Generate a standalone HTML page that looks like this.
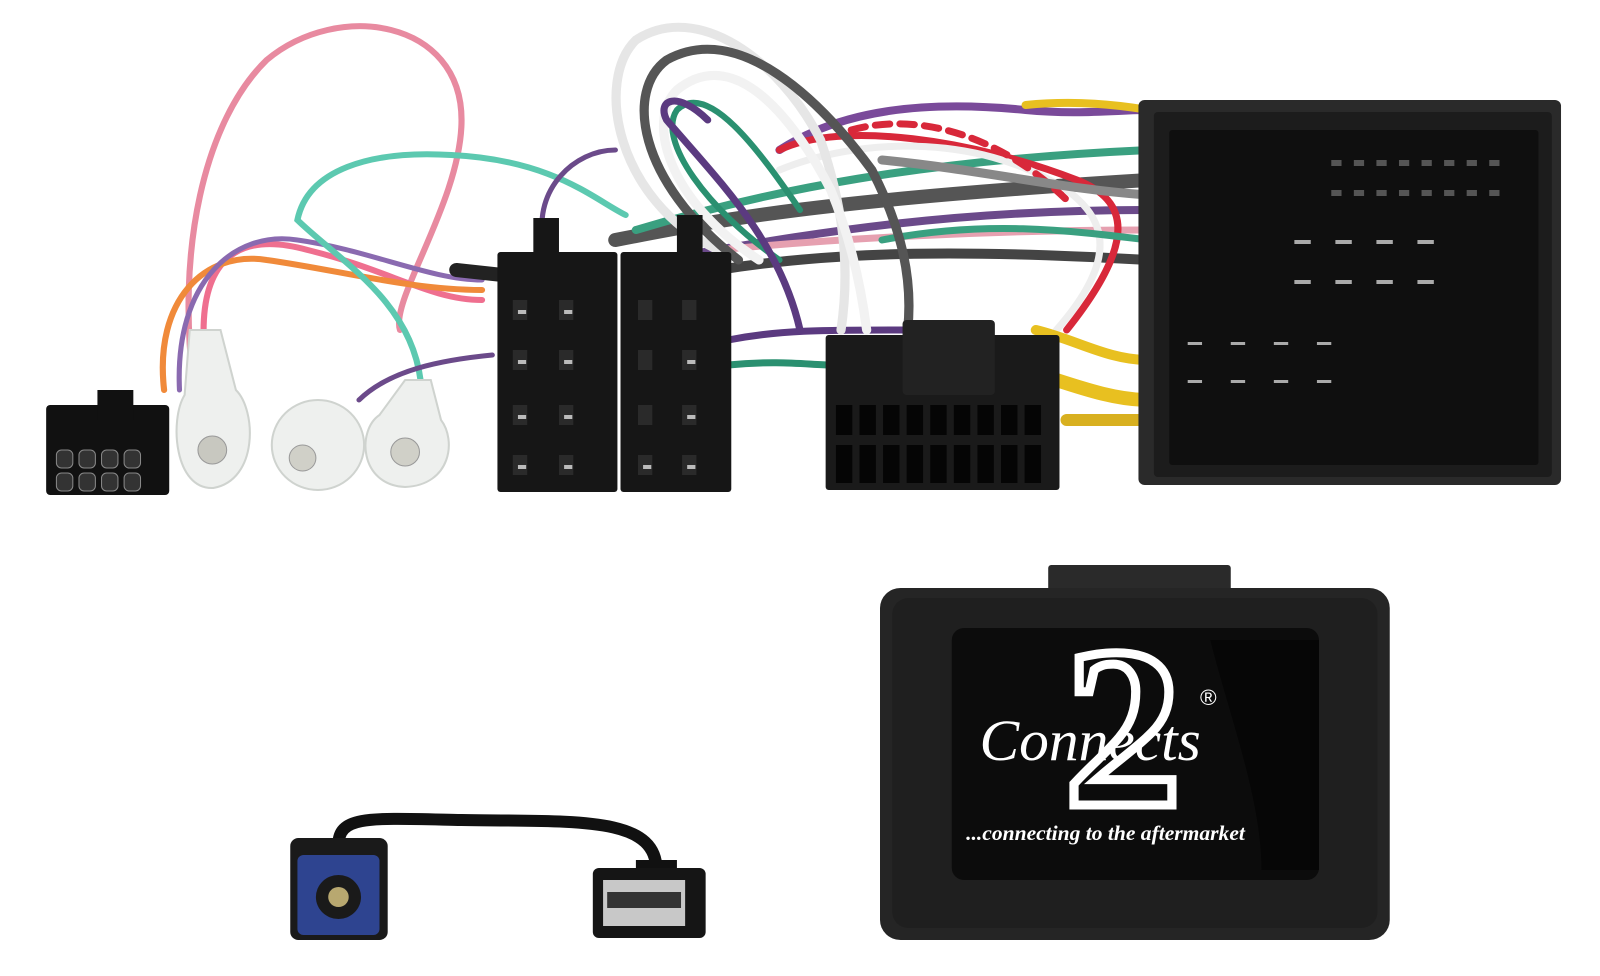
<!DOCTYPE html>
<html><head><meta charset="utf-8"><style>
html,body{margin:0;padding:0;background:#fff;width:1600px;height:976px;overflow:hidden}
svg{display:block}
</style></head><body>
<svg width="1600" height="976" viewBox="0 0 1560 976" preserveAspectRatio="none" xmlns="http://www.w3.org/2000/svg">
<g fill="none" stroke-linecap="round">
 <path d="M190 395 C170 250 200 120 260 60 C330 0 450 20 450 120 C450 200 380 300 390 330" stroke="#e88aa0" stroke-width="6"/>
 <path d="M200 360 C190 260 230 230 300 250 C380 270 420 300 470 300" stroke="#ef6f8f" stroke-width="6"/>
 <path d="M160 390 C150 300 200 250 260 260 C330 270 400 290 470 290" stroke="#f08a3a" stroke-width="6"/>
 <path d="M175 390 C170 280 230 230 290 240 C360 250 420 280 470 280" stroke="#8a6ab0" stroke-width="5"/>
 <path d="M410 380 C400 300 330 260 290 220 C300 170 360 150 440 155 C540 160 580 200 610 215" stroke="#5cc9b0" stroke-width="6"/>
 <path d="M350 400 C380 370 430 360 480 355" stroke="#6b4a8a" stroke-width="5"/>
 <path d="M445 270 L490 275" stroke="#222" stroke-width="14"/>
 <path d="M530 240 C520 190 560 150 600 150" stroke="#6b4a8a" stroke-width="5"/>
 <path d="M710 340 C760 330 800 330 880 330" stroke="#5b3a80" stroke-width="7"/>
 <path d="M710 365 C760 360 790 365 810 365" stroke="#2a9070" stroke-width="7"/>
 <path d="M600 240 C700 220 800 200 1120 180" stroke="#555" stroke-width="14"/>
 <path d="M620 230 C750 190 900 160 1120 150" stroke="#3aa080" stroke-width="8"/>
 <path d="M640 260 C760 240 900 210 1120 210" stroke="#6b4a8a" stroke-width="8"/>
 <path d="M700 250 C800 240 950 230 1120 230" stroke="#e6a0b0" stroke-width="7"/>
 <path d="M700 270 C820 250 950 250 1120 260" stroke="#444" stroke-width="10"/>
 <path d="M760 150 C820 110 900 100 1000 110 C1050 115 1090 110 1120 110" stroke="#7a4a9a" stroke-width="8"/>
 <path d="M1000 105 C1050 100 1090 105 1120 110" stroke="#e8c020" stroke-width="8"/>
 <path d="M760 150 C820 120 950 140 1050 180 C1100 200 1110 240 1040 330" stroke="#d8283a" stroke-width="7"/>
 <path d="M760 170 C830 140 950 130 1040 190 C1080 220 1090 260 1030 330" stroke="#eee" stroke-width="7"/>
 <path d="M830 130 C900 110 980 140 1040 200" stroke="#d8283a" stroke-width="7" stroke-dasharray="14 10"/>
 <path d="M860 160 C960 170 1040 190 1120 195" stroke="#888" stroke-width="9"/>
 <path d="M860 240 C960 220 1040 230 1120 240" stroke="#3aa080" stroke-width="7"/>
 <path d="M700 250 C600 200 580 80 620 40 C680 0 760 60 800 140 C820 200 830 260 820 330" stroke="#e6e6e6" stroke-width="9"/>
 <path d="M720 260 C620 180 610 90 650 60 C720 20 800 100 850 170 C880 230 890 280 885 330" stroke="#555" stroke-width="9"/>
 <path d="M740 260 C650 200 630 120 660 90 C720 40 780 130 810 190 C830 240 840 290 845 330" stroke="#f2f2f2" stroke-width="9"/>
 <path d="M760 260 C690 210 640 140 660 110 C690 80 740 150 780 210" stroke="#2a9070" stroke-width="6"/>
 <path d="M780 330 C760 240 700 180 650 120 C640 100 660 90 690 120" stroke="#5b3a80" stroke-width="7"/>
 <path d="M1010 330 C1050 340 1080 360 1120 360" stroke="#e8c020" stroke-width="10"/>
 <path d="M1030 380 C1060 390 1090 400 1120 400" stroke="#e8c020" stroke-width="14"/>
 <path d="M1040 420 C1070 420 1090 420 1120 420" stroke="#d8b020" stroke-width="12"/>
</g>
<rect x="45" y="405" width="120" height="90" rx="4" fill="#111"/>
<rect x="95" y="390" width="35" height="30" fill="#111"/>
<g fill="#333" stroke="#888" stroke-width="1">
<rect x="55" y="450" width="16" height="18" rx="5"/><rect x="77" y="450" width="16" height="18" rx="5"/><rect x="99" y="450" width="16" height="18" rx="5"/><rect x="121" y="450" width="16" height="18" rx="5"/>
<rect x="55" y="473" width="16" height="18" rx="5"/><rect x="77" y="473" width="16" height="18" rx="5"/><rect x="99" y="473" width="16" height="18" rx="5"/><rect x="121" y="473" width="16" height="18" rx="5"/>
</g>
<path d="M185 330 L215 330 L230 390 C250 410 252 480 208 488 C170 490 165 420 180 395 Z" fill="#eef0ee" stroke="#cfd3cf" stroke-width="2"/>
<circle cx="207" cy="450" r="14" fill="#c8c8c0" stroke="#999"/>
<ellipse cx="310" cy="445" rx="45" ry="45" fill="#eef0ee" stroke="#cfd3cf" stroke-width="2"/>
<circle cx="295" cy="458" r="13" fill="#d0d0c8" stroke="#999"/>
<path d="M395 380 L420 380 L430 420 C445 440 440 485 395 487 C350 485 348 430 370 415 Z" fill="#eef0ee" stroke="#cfd3cf" stroke-width="2"/>
<circle cx="395" cy="452" r="14" fill="#d0d0c8" stroke="#999"/>
<rect x="485" y="252" width="117" height="240" rx="3" fill="#161616"/>
<rect x="605" y="252" width="108" height="240" rx="3" fill="#161616"/>
<rect x="520" y="218" width="25" height="55" fill="#161616"/>
<rect x="660" y="215" width="25" height="58" fill="#161616"/>
<g fill="#2a2a2a">
<rect x="500" y="300" width="14" height="20"/><rect x="545" y="300" width="14" height="20"/><rect x="500" y="350" width="14" height="20"/><rect x="545" y="350" width="14" height="20"/><rect x="500" y="405" width="14" height="20"/><rect x="545" y="405" width="14" height="20"/><rect x="500" y="455" width="14" height="20"/><rect x="545" y="455" width="14" height="20"/>
<rect x="622" y="300" width="14" height="20"/><rect x="665" y="300" width="14" height="20"/><rect x="622" y="350" width="14" height="20"/><rect x="665" y="350" width="14" height="20"/><rect x="622" y="405" width="14" height="20"/><rect x="665" y="405" width="14" height="20"/><rect x="622" y="455" width="14" height="20"/><rect x="665" y="455" width="14" height="20"/>
</g>
<g fill="#bbb"><rect x="505" y="310" width="8" height="4"/><rect x="550" y="310" width="8" height="4"/><rect x="505" y="360" width="8" height="4"/><rect x="550" y="360" width="8" height="4"/><rect x="505" y="415" width="8" height="4"/><rect x="550" y="415" width="8" height="4"/><rect x="505" y="465" width="8" height="4"/><rect x="550" y="465" width="8" height="4"/><rect x="670" y="360" width="8" height="4"/><rect x="670" y="415" width="8" height="4"/><rect x="627" y="465" width="8" height="4"/><rect x="670" y="465" width="8" height="4"/></g>
<rect x="805" y="335" width="228" height="155" rx="3" fill="#1a1a1a"/>
<rect x="880" y="320" width="90" height="75" rx="4" fill="#222"/>
<g fill="#050505">
<rect x="815" y="405" width="16" height="30"/><rect x="838" y="405" width="16" height="30"/><rect x="861" y="405" width="16" height="30"/><rect x="884" y="405" width="16" height="30"/><rect x="907" y="405" width="16" height="30"/><rect x="930" y="405" width="16" height="30"/><rect x="953" y="405" width="16" height="30"/><rect x="976" y="405" width="16" height="30"/><rect x="999" y="405" width="16" height="30"/>
<rect x="815" y="445" width="16" height="38"/><rect x="838" y="445" width="16" height="38"/><rect x="861" y="445" width="16" height="38"/><rect x="884" y="445" width="16" height="38"/><rect x="907" y="445" width="16" height="38"/><rect x="930" y="445" width="16" height="38"/><rect x="953" y="445" width="16" height="38"/><rect x="976" y="445" width="16" height="38"/><rect x="999" y="445" width="16" height="38"/>
</g>
<rect x="1110" y="100" width="412" height="385" rx="6" fill="#2a2a2a"/>
<rect x="1125" y="112" width="388" height="365" rx="4" fill="#1c1c1c"/>
<rect x="1140" y="130" width="360" height="335" rx="3" fill="#0f0f0f"/>
<g fill="#555">
<rect x="1298" y="160" width="10" height="6"/><rect x="1320" y="160" width="10" height="6"/><rect x="1342" y="160" width="10" height="6"/><rect x="1364" y="160" width="10" height="6"/><rect x="1386" y="160" width="10" height="6"/><rect x="1408" y="160" width="10" height="6"/><rect x="1430" y="160" width="10" height="6"/><rect x="1452" y="160" width="10" height="6"/>
<rect x="1298" y="190" width="10" height="6"/><rect x="1320" y="190" width="10" height="6"/><rect x="1342" y="190" width="10" height="6"/><rect x="1364" y="190" width="10" height="6"/><rect x="1386" y="190" width="10" height="6"/><rect x="1408" y="190" width="10" height="6"/><rect x="1430" y="190" width="10" height="6"/><rect x="1452" y="190" width="10" height="6"/>
</g>
<g fill="#aaa"><rect x="1262" y="240" width="16" height="4"/><rect x="1302" y="240" width="16" height="4"/><rect x="1342" y="240" width="16" height="4"/><rect x="1382" y="240" width="16" height="4"/><rect x="1262" y="280" width="16" height="4"/><rect x="1302" y="280" width="16" height="4"/><rect x="1342" y="280" width="16" height="4"/><rect x="1382" y="280" width="16" height="4"/>
<rect x="1158" y="342" width="14" height="3"/><rect x="1200" y="342" width="14" height="3"/><rect x="1242" y="342" width="14" height="3"/><rect x="1284" y="342" width="14" height="3"/><rect x="1158" y="380" width="14" height="3"/><rect x="1200" y="380" width="14" height="3"/><rect x="1242" y="380" width="14" height="3"/><rect x="1284" y="380" width="14" height="3"/></g>
<path d="M330 845 C330 815 360 818 450 820 C560 822 640 815 640 870" fill="none" stroke="#111" stroke-width="12"/>
<rect x="283" y="838" width="95" height="102" rx="8" fill="#1a1a1a"/>
<rect x="290" y="855" width="80" height="80" rx="6" fill="#2e4490"/>
<circle cx="330" cy="897" r="22" fill="#1a1a1a"/>
<circle cx="330" cy="897" r="10" fill="#b8a870"/>
<rect x="620" y="860" width="40" height="15" fill="#111"/>
<rect x="578" y="868" width="110" height="70" rx="6" fill="#151515"/>
<rect x="588" y="880" width="80" height="46" fill="#c8c8c8"/>
<rect x="592" y="892" width="72" height="16" fill="#333"/>
<rect x="1022" y="565" width="178" height="35" rx="3" fill="#2a2a2a"/>
<rect x="858" y="588" width="497" height="352" rx="20" fill="#252525"/>
<rect x="870" y="598" width="473" height="330" rx="16" fill="#1f1f1f"/>
<rect x="928" y="628" width="358" height="252" rx="12" fill="#0c0c0c"/>
<path d="M1180 640 L1286 640 L1286 870 L1230 870 C1230 800 1200 720 1180 640Z" fill="#060606"/>
<text x="1095" y="805" font-family="Liberation Serif, serif" font-weight="bold" font-size="230" fill="none" stroke="#fff" stroke-width="9" text-anchor="middle">2</text>
<text x="955" y="760" font-family="Liberation Serif, serif" font-style="italic" font-size="58" fill="#fff">Connects</text>
<text x="1170" y="705" font-family="Liberation Sans, sans-serif" font-size="22" fill="#fff">®</text>
<text x="942" y="840" font-family="Liberation Serif, serif" font-style="italic" font-weight="bold" font-size="21" fill="#fff">...connecting to the aftermarket</text>
</svg>
</body></html>
